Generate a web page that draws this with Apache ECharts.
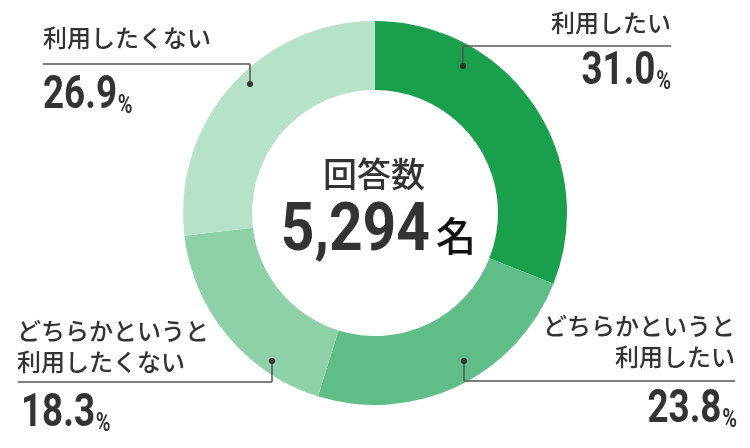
<!DOCTYPE html>
<html><head><meta charset="utf-8">
<script src="https://cdn.jsdelivr.net/npm/echarts@6/dist/echarts.min.js"></script>
<style>html,body{margin:0;padding:0;background:#fff}#c{width:750px;height:448px}</style>
</head><body><div id="c"></div>
<script>
const categories = ['利用したい', 'どちらかというと\n利用したい', 'どちらかというと\n利用したくない', '利用したくない'];
const values = [31.0, 23.8, 18.3, 26.9];
const totalLabel = '回答数';
const totalCount = '5,294';
const totalUnit = '名';

const colors = ['#1a9f4d', '#5fbe87', '#8ed0a7', '#b7e2ca'];
const NUM_FONT = "Roboto,'DejaVu Sans',sans-serif";
const JP_FONT = "'Noto Sans CJK JP','Noto Sans',sans-serif";
const TXT = '#333333';
const LINE = '#555555';

// callout layout: label anchor, horizontal line, dot, value anchor
const callouts = [
  {lx:671, ly:23, align:'right', hx1:463, hx2:671, hy:46, dx:463, dy:66, vx:671, vy:72},
  {lx:735, ly:341, align:'right', hx1:464, hx2:735, hy:381, dx:464, dy:361, vx:737, vy:410},
  {lx:17, ly:346, align:'left', hx1:18, hx2:272, hy:382, dx:272, dy:361, vx:21, vy:414},
  {lx:43, ly:38, align:'left', hx1:43, hx2:250, hy:64, dx:250, dy:84, vx:43, vy:96}
];

const graphics = [];
callouts.forEach((c, i) => {
  graphics.push({type:'polyline', shape:{points:[[c.hx1, c.hy],[c.hx2, c.hy]]}, style:{stroke:LINE, lineWidth:1.5, fill:null}, z:10});
  graphics.push({type:'polyline', shape:{points:[[c.dx, c.hy],[c.dx, c.dy]]}, style:{stroke:LINE, lineWidth:1.5, fill:null}, z:10});
  graphics.push({type:'circle', shape:{cx:c.dx, cy:c.dy, r:3}, style:{fill:'#333'}, z:11});
  graphics.push({type:'text', x:c.lx, y:c.ly, z:12, style:{
    text: categories[i], align:c.align, verticalAlign:'middle',
    font:"500 24px " + JP_FONT, fill:TXT, lineHeight:31
  }});
  graphics.push({type:'text', x:c.vx, y:c.vy, scaleX:0.8, z:12, style:{
    text: '{n|' + values[i].toFixed(1) + '}{p|%}', align:c.align, verticalAlign:'middle',
    rich:{
      n:{font:"bold 46px " + NUM_FONT, fill:TXT, lineHeight:46, verticalAlign:'bottom'},
      p:{font:"bold 25px " + NUM_FONT, fill:TXT, lineHeight:29, verticalAlign:'bottom', padding:[0,0,0,1]}
    }
  }});
});
graphics.push({type:'text', x:374, y:174, z:12, style:{
  text: totalLabel, align:'center', verticalAlign:'middle', font:"500 34px " + JP_FONT, fill:TXT
}});
graphics.push({type:'text', x:430, y:233, scaleX:0.89, z:12, style:{
  text: totalCount, align:'right', verticalAlign:'middle', font:"bold 66px " + NUM_FONT, fill:TXT
}});
graphics.push({type:'text', x:436, y:236, z:12, style:{
  text: totalUnit, align:'left', verticalAlign:'middle', font:"500 40px " + JP_FONT, fill:'#111'
}});

const chart = echarts.init(document.getElementById('c'));
chart.setOption({
  animation:false,
  color: colors,
  series:[{
    type:'pie', center:[375,213], radius:[123,192], startAngle:90, clockwise:true,
    label:{show:false}, labelLine:{show:false}, silent:true,
    itemStyle:{borderWidth:0},
    data: categories.map((n, i) => ({name:n, value:values[i]}))
  }],
  graphic: graphics
});
</script></body></html>
